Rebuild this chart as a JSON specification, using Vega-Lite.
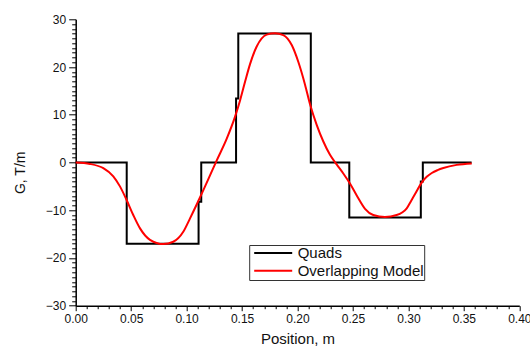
{
  "$schema": "https://vega.github.io/schema/vega-lite/v6.json",
  "width": 443.6,
  "height": 286.4,
  "autosize": {"type": "none"},
  "padding": {"left": 75.7, "top": 19.3, "right": 10.7, "bottom": 40.3},
  "background": "white",
  "config": {"view": {"stroke": null}, "font": "Liberation Sans"},
  "datasets": {
    "quads": [
      {"i": 0, "position": 0, "G": 0, "series": "Quads"},
      {"i": 1, "position": 0.046, "G": 0, "series": "Quads"},
      {"i": 2, "position": 0.046, "G": -17, "series": "Quads"},
      {"i": 3, "position": 0.1108, "G": -17, "series": "Quads"},
      {"i": 4, "position": 0.1108, "G": -8.2, "series": "Quads"},
      {"i": 5, "position": 0.1132, "G": -8.2, "series": "Quads"},
      {"i": 6, "position": 0.1132, "G": 0, "series": "Quads"},
      {"i": 7, "position": 0.1446, "G": 0, "series": "Quads"},
      {"i": 8, "position": 0.1446, "G": 13.4, "series": "Quads"},
      {"i": 9, "position": 0.1466, "G": 13.4, "series": "Quads"},
      {"i": 10, "position": 0.1466, "G": 27, "series": "Quads"},
      {"i": 11, "position": 0.212, "G": 27, "series": "Quads"},
      {"i": 12, "position": 0.212, "G": 0, "series": "Quads"},
      {"i": 13, "position": 0.2467, "G": 0, "series": "Quads"},
      {"i": 14, "position": 0.2467, "G": -11.5, "series": "Quads"},
      {"i": 15, "position": 0.3112, "G": -11.5, "series": "Quads"},
      {"i": 16, "position": 0.3112, "G": -4, "series": "Quads"},
      {"i": 17, "position": 0.313, "G": -4, "series": "Quads"},
      {"i": 18, "position": 0.313, "G": 0, "series": "Quads"},
      {"i": 19, "position": 0.357, "G": 0, "series": "Quads"}
    ],
    "model": [
      {"position": 0, "G": 0, "series": "Overlapping Model"},
      {"position": 0.0129, "G": -0.3, "series": "Overlapping Model"},
      {"position": 0.0249, "G": -1.2, "series": "Overlapping Model"},
      {"position": 0.0339, "G": -2.9, "series": "Overlapping Model"},
      {"position": 0.0399, "G": -5.0, "series": "Overlapping Model"},
      {"position": 0.046, "G": -7.9, "series": "Overlapping Model"},
      {"position": 0.0519, "G": -11.0, "series": "Overlapping Model"},
      {"position": 0.058, "G": -13.8, "series": "Overlapping Model"},
      {"position": 0.067, "G": -16.2, "series": "Overlapping Model"},
      {"position": 0.079, "G": -17.1, "series": "Overlapping Model"},
      {"position": 0.088, "G": -16.6, "series": "Overlapping Model"},
      {"position": 0.097, "G": -14.5, "series": "Overlapping Model"},
      {"position": 0.1031, "G": -11.7, "series": "Overlapping Model"},
      {"position": 0.1091, "G": -8.8, "series": "Overlapping Model"},
      {"position": 0.1151, "G": -5.8, "series": "Overlapping Model"},
      {"position": 0.1211, "G": -2.7, "series": "Overlapping Model"},
      {"position": 0.1271, "G": 0.4, "series": "Overlapping Model"},
      {"position": 0.1362, "G": 5.0, "series": "Overlapping Model"},
      {"position": 0.1437, "G": 9.6, "series": "Overlapping Model"},
      {"position": 0.1482, "G": 13.0, "series": "Overlapping Model"},
      {"position": 0.1527, "G": 16.9, "series": "Overlapping Model"},
      {"position": 0.1572, "G": 20.6, "series": "Overlapping Model"},
      {"position": 0.1632, "G": 24.3, "series": "Overlapping Model"},
      {"position": 0.1722, "G": 26.8, "series": "Overlapping Model"},
      {"position": 0.1797, "G": 27.1, "series": "Overlapping Model"},
      {"position": 0.1872, "G": 26.7, "series": "Overlapping Model"},
      {"position": 0.1948, "G": 24.6, "series": "Overlapping Model"},
      {"position": 0.2007, "G": 21.1, "series": "Overlapping Model"},
      {"position": 0.2068, "G": 16.3, "series": "Overlapping Model"},
      {"position": 0.2113, "G": 12.2, "series": "Overlapping Model"},
      {"position": 0.2173, "G": 7.9, "series": "Overlapping Model"},
      {"position": 0.2233, "G": 4.4, "series": "Overlapping Model"},
      {"position": 0.2293, "G": 1.6, "series": "Overlapping Model"},
      {"position": 0.2353, "G": -0.4, "series": "Overlapping Model"},
      {"position": 0.2413, "G": -2.3, "series": "Overlapping Model"},
      {"position": 0.2473, "G": -4.4, "series": "Overlapping Model"},
      {"position": 0.2534, "G": -6.9, "series": "Overlapping Model"},
      {"position": 0.2609, "G": -9.7, "series": "Overlapping Model"},
      {"position": 0.2683, "G": -11.0, "series": "Overlapping Model"},
      {"position": 0.2789, "G": -11.4, "series": "Overlapping Model"},
      {"position": 0.2894, "G": -11.0, "series": "Overlapping Model"},
      {"position": 0.2985, "G": -9.6, "series": "Overlapping Model"},
      {"position": 0.3023, "G": -8.1, "series": "Overlapping Model"},
      {"position": 0.306, "G": -6.6, "series": "Overlapping Model"},
      {"position": 0.312, "G": -4.2, "series": "Overlapping Model"},
      {"position": 0.3165, "G": -3.0, "series": "Overlapping Model"},
      {"position": 0.3211, "G": -2.2, "series": "Overlapping Model"},
      {"position": 0.3263, "G": -1.6, "series": "Overlapping Model"},
      {"position": 0.3315, "G": -1.15, "series": "Overlapping Model"},
      {"position": 0.3436, "G": -0.5, "series": "Overlapping Model"},
      {"position": 0.3571, "G": -0.2, "series": "Overlapping Model"}
    ]
  },
  "encoding": {
    "x": {
      "field": "position",
      "type": "quantitative",
      "scale": {"domain": [0, 0.4], "nice": false, "zero": false},
      "axis": {
        "title": "Position, m",
        "titleFont": "Liberation Sans",
        "titleFontSize": 15,
        "titleFontWeight": "normal",
        "titleColor": "#111",
        "titleBaseline": "alphabetic",
        "titleY": 38,
        "values": [0,0.01,0.02,0.03,0.04,0.05,0.06,0.07,0.08,0.09,0.1,0.11,0.12,0.13,0.14,0.15,0.16,0.17,0.18,0.19,0.2,0.21,0.22,0.23,0.24,0.25,0.26,0.27,0.28,0.29,0.3,0.31,0.32,0.33,0.34,0.35,0.36,0.37,0.38,0.39,0.4],
        "format": ".2f",
        "labelExpr": "abs(datum.value*20 - round(datum.value*20)) < 0.001 ? datum.label : ''",
        "labelOverlap": false,
        "labelFlush": false,
        "labelFontSize": 12,
        "labelColor": "#111",
        "labelPadding": 3,
        "tickSize": {"condition": {"test": "abs(datum.value*20 - round(datum.value*20)) < 0.001", "value": 5}, "value": 3},
        "tickColor": "#000",
        "tickWidth": 1,
        "domainColor": "#000",
        "domainWidth": 1.5,
        "grid": false
      }
    },
    "y": {
      "field": "G",
      "type": "quantitative",
      "scale": {"domain": [-30, 30], "nice": false},
      "axis": {
        "title": "G, T/m",
        "titleFont": "Liberation Sans",
        "titleFontSize": 14,
        "titleFontWeight": "normal",
        "titleColor": "#111",
        "titleBaseline": "alphabetic",
        "titleX": -51,
        "titleY": 153,
        "values": [-30,-29,-28,-27,-26,-25,-24,-23,-22,-21,-20,-19,-18,-17,-16,-15,-14,-13,-12,-11,-10,-9,-8,-7,-6,-5,-4,-3,-2,-1,0,1,2,3,4,5,6,7,8,9,10,11,12,13,14,15,16,17,18,19,20,21,22,23,24,25,26,27,28,29,30],
        "labelExpr": "datum.value % 10 === 0 ? datum.label : ''",
        "labelOverlap": false,
        "labelFontSize": 12,
        "labelColor": "#111",
        "labelPadding": 3,
        "tickSize": {"condition": {"test": "datum.value % 10 === 0", "value": 7}, "value": 4},
        "tickColor": "#000",
        "tickWidth": 1,
        "domainColor": "#000",
        "domainWidth": 1.5,
        "grid": false
      }
    },
    "color": {
      "field": "series",
      "type": "nominal",
      "scale": {"domain": ["Quads", "Overlapping Model"], "range": ["#000000", "#ff0000"]},
      "legend": {
        "title": null,
        "orient": "none",
        "legendX": 173.5,
        "legendY": 225.7,
        "padding": 0.5,
        "strokeColor": "#333",
        "fillColor": "white",
        "symbolType": "stroke",
        "symbolSize": 1444,
        "symbolStrokeWidth": 2,
        "symbolOffset": 3.5,
        "labelOffset": 4.5,
        "clipHeight": 15,
        "labelFont": "Liberation Sans",
        "labelFontSize": 15,
        "labelColor": "#111",
        "rowPadding": 1.7,
        "labelLimit": 300
      }
    }
  },
  "layer": [
    {
      "data": {"name": "quads"},
      "mark": {"type": "line", "strokeWidth": 2, "strokeJoin": "miter"},
      "encoding": {"order": {"field": "i", "type": "quantitative"}}
    },
    {
      "data": {"name": "model"},
      "mark": {"type": "line", "strokeWidth": 2, "interpolate": "monotone"}
    }
  ]
}
